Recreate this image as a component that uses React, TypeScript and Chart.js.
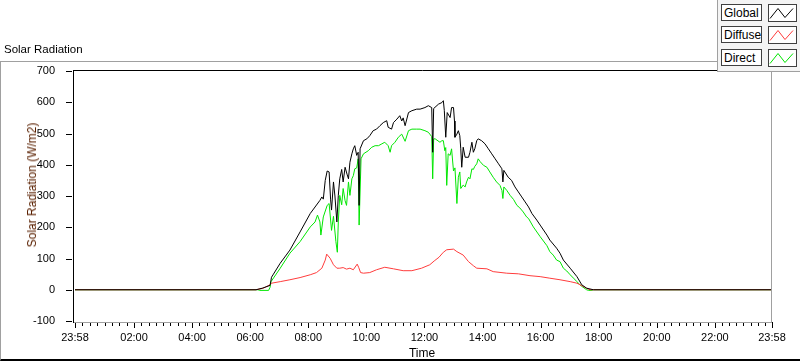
import React, { useEffect, useRef } from 'react';
import { Chart, registerables } from 'chart.js';

Chart.register(...registerables);

const FONT = "'Liberation Sans', Arial, sans-serif";

// axis ticks
const yTicks = [-100, 0, 100, 200, 300, 400, 500, 600, 700];
const xMajorTicks = [-2, 120, 240, 360, 480, 600, 720, 840, 960, 1080, 1200, 1320, 1438];
const xTickLabels = ['23:58', '02:00', '04:00', '06:00', '08:00', '10:00', '12:00', '14:00', '16:00', '18:00', '20:00', '22:00', '23:58'];

const seriesNames = ['Global', 'Diffuse', 'Direct'];
const seriesColors = ['#000000', '#ff3c3c', '#00e600'];

// readings: [minutes after 00:00, W/m2]
const globalReadings: [number, number][] = [
  [-2, 0], [372, 0], [385, 5], [401, 14], [404, 40], [408, 50], [422, 85], [442, 127], [463, 185], [484, 244],
  [504, 286], [508, 297], [511, 290], [515, 350], [519, 380], [523, 377], [526, 290], [528, 255], [532, 345], [535, 300],
  [539, 217], [542, 302], [545, 355], [549, 385], [552, 345], [556, 392], [560, 370], [563, 355], [566, 408], [570, 435],
  [573, 451], [576, 461], [580, 430], [583, 440], [585, 270], [587, 451], [594, 477], [601, 483], [607, 493], [614, 509],
  [621, 514], [628, 525], [635, 535], [642, 541], [645, 520], [652, 514], [656, 535], [663, 546], [669, 557], [673, 540],
  [676, 550], [680, 525], [687, 567], [694, 573], [704, 578], [711, 578], [721, 583], [728, 589], [735, 583], [737, 440],
  [739, 580], [749, 594], [756, 599], [759, 605], [761, 573], [764, 488], [767, 567], [773, 551], [776, 583], [780, 583],
  [782, 540], [783, 488], [787, 498], [790, 509], [793, 493], [795, 451], [797, 392], [800, 456], [804, 424], [811, 424],
  [814, 440], [818, 472], [821, 440], [824, 451], [828, 477], [831, 483], [838, 477], [845, 467], [852, 451], [859, 435],
  [866, 419], [873, 403], [880, 387], [882, 345], [884, 382], [893, 360], [900, 350], [907, 329], [914, 313], [921, 297],
  [928, 281], [935, 265], [942, 244], [952, 223], [959, 207], [973, 175], [979, 159], [993, 133], [1000, 117], [1007, 95],
  [1021, 69], [1035, 42], [1045, 16], [1055, 5], [1069, 0], [1438, 0],
];

const diffuseReadings: [number, number][] = [
  [-2, 0], [372, 0], [387, 5], [401, 16], [404, 21], [422, 26], [442, 32], [463, 39], [484, 48], [497, 55],
  [508, 69], [515, 95], [518, 114], [525, 101], [532, 80], [539, 69], [545, 69], [552, 71], [559, 66], [566, 69],
  [573, 64], [581, 82], [584, 72], [588, 55], [594, 53], [607, 55], [621, 64], [638, 72], [656, 67], [676, 61],
  [694, 61], [714, 69], [731, 80], [740, 92], [750, 104], [759, 120], [766, 128], [780, 130], [787, 122], [800, 111],
  [811, 90], [821, 77], [828, 69], [849, 67], [862, 58], [890, 53], [914, 51], [938, 45], [959, 42], [979, 37],
  [1000, 32], [1021, 26], [1035, 21], [1045, 13], [1055, 5], [1062, 0], [1438, 0],
];

const directReadings: [number, number][] = [
  [-2, 0], [372, 0], [376, 0], [380, -2], [398, -2], [401, 8], [403, 26], [422, 69], [442, 117], [463, 154],
  [484, 201], [494, 217], [499, 239], [504, 217], [506, 175], [511, 233], [519, 270], [523, 276], [528, 190], [532, 235],
  [537, 154], [540, 120], [542, 217], [545, 302], [549, 272], [552, 324], [556, 285], [559, 270], [563, 345], [566, 302],
  [570, 355], [573, 365], [576, 387], [580, 390], [583, 419], [585, 207], [589, 419], [594, 435], [604, 445], [611, 456],
  [618, 461], [625, 461], [632, 467], [638, 472], [645, 461], [649, 440], [652, 461], [659, 472], [666, 488], [673, 498],
  [680, 475], [687, 509], [694, 514], [704, 514], [711, 514], [721, 509], [728, 504], [731, 498], [735, 490], [737, 355],
  [739, 483], [742, 483], [752, 472], [756, 477], [759, 477], [762, 445], [764, 455], [766, 334], [769, 435], [773, 430],
  [776, 451], [780, 380], [783, 390], [787, 276], [790, 360], [793, 377], [795, 324], [800, 335], [804, 329], [807, 345],
  [811, 360], [814, 355], [818, 387], [821, 385], [824, 395], [828, 403], [831, 419], [835, 410], [842, 398], [849, 392],
  [855, 377], [862, 360], [869, 345], [876, 334], [880, 318], [882, 292], [884, 329], [890, 318], [897, 302], [904, 289],
  [911, 270], [917, 262], [924, 249], [931, 233], [935, 228], [945, 201], [959, 170], [973, 141], [979, 122], [986, 111],
  [993, 95], [1000, 90], [1007, 69], [1014, 60], [1021, 48], [1028, 37], [1035, 26], [1041, 16], [1045, 11], [1055, 0],
  [1059, -2], [1066, -2], [1069, 0], [1438, 0],
];

const seriesReadings = [globalReadings, diffuseReadings, directReadings];

function LegendIcon({ color }: { color: string }) {
  return (
    <svg width="26" height="16" style={{ display: 'block' }}>
      <polyline points="1,13.5 9,3.5 16,12.5 24,3.5" fill="none" stroke={color} strokeWidth="1" />
    </svg>
  );
}

export default function App() {
  const ref = useRef<HTMLCanvasElement>(null);

  useEffect(() => {
    document.body.style.margin = '0';
    const frame = {
      id: 'labviewFrame',
      afterDraw(chart: any) {
        const { ctx, chartArea: a, scales } = chart;
        const xs = scales.x;
        const ys = scales.y;
        const line = (x1: number, y1: number, x2: number, y2: number) => {
          ctx.beginPath();
          ctx.moveTo(x1, y1);
          ctx.lineTo(x2, y2);
          ctx.stroke();
        };
        ctx.save();
        ctx.lineWidth = 1;
        // y tick marks
        ctx.strokeStyle = '#000';
        for (const v of yTicks) {
          const py = Math.round(ys.getPixelForValue(v)) + 0.5;
          line(66, py, 72, py);
        }
        // x tick marks (major + 7 minor between each pair)
        const bottom = a.bottom + 1;
        for (let i = 0; i < xMajorTicks.length; i++) {
          const px = Math.round(xs.getPixelForValue(xMajorTicks[i])) + 0.5;
          line(px, bottom, px, bottom + 6);
          if (i < xMajorTicks.length - 1) {
            const v0 = xMajorTicks[i];
            const v1 = xMajorTicks[i + 1];
            for (let k = 1; k < 8; k++) {
              const mx = Math.round(xs.getPixelForValue(v0 + ((v1 - v0) * k) / 8)) + 0.5;
              line(mx, bottom + 1, mx, bottom + 4);
            }
          }
        }
        // frame
        ctx.strokeStyle = '#a0a0a0';
        line(771.5, 70, 771.5, bottom + 0.5);
        line(73, bottom + 0.5, 772, bottom + 0.5);
        ctx.strokeStyle = '#000';
        line(73.5, 70, 73.5, bottom + 1);
        line(73, 70.5, 772, 70.5);
        ctx.restore();
      },
    };

    const chart = new Chart(ref.current as HTMLCanvasElement, {
      type: 'line',
      data: {
        datasets: seriesReadings.map((r, i) => ({
          label: seriesNames[i],
          data: r.map(([x, y]) => ({ x, y })),
          borderColor: seriesColors[i],
          backgroundColor: seriesColors[i],
          borderWidth: 1,
          pointRadius: 0,
          tension: 0,
          fill: false,
        })),
      },
      options: {
        responsive: false,
        animation: false,
        devicePixelRatio: 1,
        parsing: false,
        layout: { padding: { top: 71, right: 28, bottom: 0, left: 0 } },
        plugins: {
          legend: { display: false },
          tooltip: { enabled: false },
          title: { display: false },
        },
        scales: {
          x: {
            type: 'linear',
            min: -2,
            max: 1438,
            afterBuildTicks: (s: any) => {
              s.ticks = xMajorTicks.map((v) => ({ value: v }));
            },
            afterFit: (s: any) => {
              s.height = 40;
            },
            grid: { display: false },
            border: { display: false },
            ticks: {
              autoSkip: false,
              maxRotation: 0,
              padding: 2,
              color: '#000',
              font: { family: FONT, size: 11 },
              callback: (_v: any, i: number) => xTickLabels[i],
            },
          },
          y: {
            type: 'linear',
            min: -100,
            max: 700,
            afterBuildTicks: (s: any) => {
              s.ticks = yTicks.map((v) => ({ value: v }));
            },
            afterFit: (s: any) => {
              s.width = 75;
            },
            grid: { display: false },
            border: { display: false },
            ticks: {
              padding: 12,
              color: '#000',
              font: { family: FONT, size: 11 },
              callback: (v: any) => String(v),
            },
          },
        },
      },
      plugins: [frame],
    } as any);
    return () => chart.destroy();
  }, []);

  const text: React.CSSProperties = { position: 'absolute', fontFamily: FONT, whiteSpace: 'nowrap', lineHeight: 1 };

  return (
    <div style={{ position: 'fixed', left: 0, top: 0, width: 800, height: 361, background: '#fff', overflow: 'hidden' }}>
      {/* outer frame */}
      <div style={{ position: 'absolute', left: 0, top: 61, width: 799, height: 297, borderTop: '1px solid #a0a0a0', borderLeft: '1px solid #a0a0a0', borderBottom: '2px solid #000' }} />
      <canvas ref={ref} width={800} height={361} style={{ position: 'absolute', left: 0, top: 0, width: 800, height: 361 }} />
      <div style={{ ...text, left: 4, top: 44, fontSize: 11.5, color: '#000' }}>Solar Radiation</div>
      <div style={{ ...text, left: 32, top: 185, fontSize: 12, color: '#5a2000', transform: 'translate(-50%, -50%) rotate(-90deg)' }}>Solar Radiation (W/m2)</div>
      <div style={{ ...text, left: 422, top: 353, fontSize: 12, color: '#000', transform: 'translate(-50%, -50%)' }}>Time</div>
      {/* legend */}
      <div style={{ position: 'absolute', left: 717, top: 0, width: 83, height: 71, background: '#f4f4f4', borderLeft: '1px solid #a0a0a0', borderBottom: '1px solid #a0a0a0' }}>
        {seriesNames.map((n, i) => (
          <div key={n} style={{ position: 'absolute', left: 3, top: [4, 26, 49][i] }}>
            <div style={{ position: 'absolute', left: 0, top: 0, width: 41, height: 17, border: '1px solid #404040', background: '#fff', boxSizing: 'border-box' }}>
              <div style={{ ...text, left: 2, top: 2, fontSize: 12, color: '#000' }}>{n}</div>
            </div>
            <div style={{ position: 'absolute', left: 47, top: 0, width: 29, height: 18, border: '1px solid #404040', background: '#fff', boxSizing: 'border-box' }}>
              <LegendIcon color={seriesColors[i]} />
            </div>
          </div>
        ))}
      </div>
    </div>
  );
}
